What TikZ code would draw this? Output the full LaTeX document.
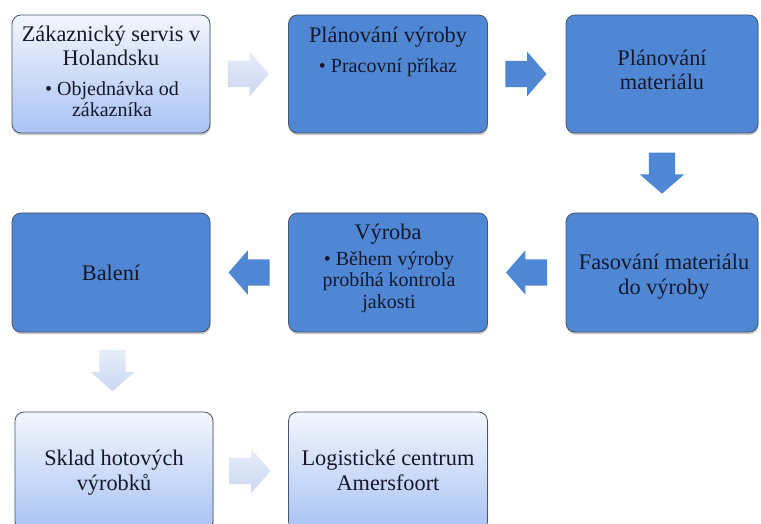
\documentclass[tikz,border=0pt]{standalone}
\usepackage{fontspec}
\setmainfont{Liberation Serif}
\usetikzlibrary{shapes.arrows,shadows,calc}

\definecolor{boxblue}{HTML}{4F87D4}
\definecolor{boxedge}{HTML}{46566F}
\definecolor{paletop}{HTML}{F3F6FD}
\definecolor{palebottom}{HTML}{A9C3F4}
\definecolor{arrowtop}{HTML}{E6ECF9}
\definecolor{arrowbottom}{HTML}{CBD8F2}
\definecolor{ink}{HTML}{16182A}

\tikzset{
  stepshadow/.style={drop shadow={shadow xshift=0.6pt, shadow yshift=-2.2pt, opacity=0.35, fill=black!60}},
  darkbox/.style={draw=boxedge, line width=0.8pt, fill=boxblue, rounded corners=9pt, stepshadow, inner sep=0pt},
  palebox/.style={draw=boxedge, line width=0.8pt, top color=paletop, bottom color=palebottom, rounded corners=9pt, stepshadow, inner sep=0pt},
  % block arrows are placed by their tail, half a length (20.5pt) behind the gap's midpoint
  blockarrow/.style={single arrow, anchor=tail, inner sep=13pt, minimum height=41pt, minimum width=44pt,
    single arrow head extend=9pt, single arrow tip angle=98, draw=none},
  darkarrow/.style={blockarrow, fill=boxblue},
  palearrow/.style={blockarrow, top color=arrowtop, bottom color=arrowbottom},
  % multi-line texts are placed by the baseline of their last line
  titletext/.style={text=ink, align=center, inner sep=0pt, anchor=base, font=\fontsize{22.3}{24.5}\selectfont},
  bullettext/.style={text=ink, align=center, inner sep=0pt, anchor=base, font=\fontsize{20}{21.5}\selectfont},
}

\begin{document}
\begin{tikzpicture}[x=1pt, y=1pt]
\useasboundingbox (0,0) rectangle (761,-524);
\clip (0,0) rectangle (761,-524);
\fill[white] (0,0) rectangle (761,-524);

% --- process boxes ---
\node[palebox, minimum width=198pt, minimum height=118pt] (zak) at (111,-74) {};
\node[darkbox, minimum width=199pt, minimum height=118pt] (planvyr) at (388,-74) {};
\node[darkbox, minimum width=192pt, minimum height=118pt] (planmat) at (662,-74) {};

\node[darkbox, minimum width=192pt, minimum height=119pt] (fas) at (662,-272.5) {};
\node[darkbox, minimum width=199pt, minimum height=119pt] (vyr) at (388,-272.5) {};
\node[darkbox, minimum width=198pt, minimum height=119pt] (bal) at (111,-272.5) {};

\node[palebox, minimum width=198pt, minimum height=118pt] (sklad) at (114,-471) {};
\node[palebox, minimum width=199pt, minimum height=118pt] (log) at (388,-471) {};

% --- box texts ---
\node[titletext] (tzak) at (111,-66) {Zákaznický servis v\\Holandsku};
\node[bullettext] (bzak) at (112,-117) {• Objednávka od\\zákazníka};

\node[titletext] (tplanvyr) at (388,-43) {Plánování výroby};
\node[bullettext] (bplanvyr) at (388,-73) {• Pracovní příkaz};

\node[titletext] (tplanmat) at (662,-90) {Plánování\\materiálu};
\node[titletext] (tfas) at (664,-294) {Fasování materiálu\\do výroby};

\node[titletext] (tvyr) at (388,-240) {Výroba};
\node[bullettext] (bvyr) at (389,-308) {• Během výroby\\probíhá kontrola\\jakosti};

\node[titletext] (tbal) at (111,-280) {Balení};

\node[titletext] (tsklad) at (114,-490) {Sklad hotových\\výrobků};
\node[titletext] (tlog) at (388,-490) {Logistické centrum\\Amersfoort};

% --- flow arrows ---
\node[palearrow] (a1) at ($(zak.east)!0.5!(planvyr.west)+(-21.5,0)$) {};
\node[darkarrow] (a2) at ($(planvyr.east)!0.5!(planmat.west)+(-21.5,0)$) {};
\node[darkarrow, shape border rotate=270] (a3) at ($(planmat.south)!0.5!(fas.north)+(0,20.5)$) {};
\node[darkarrow, shape border rotate=180] (a4) at ($(fas.west)!0.5!(vyr.east)+(20.5,0)$) {};
\node[darkarrow, shape border rotate=180] (a5) at ($(vyr.west)!0.5!(bal.east)+(20.5,0)$) {};
\node[palearrow, shape border rotate=270] (a6) at ($(bal.south)!0.5!(sklad.north)+(0,22)$) {};
\node[palearrow] (a7) at ($(sklad.east)!0.5!(log.west)+(-21.5,0)$) {};
\end{tikzpicture}
\end{document}
